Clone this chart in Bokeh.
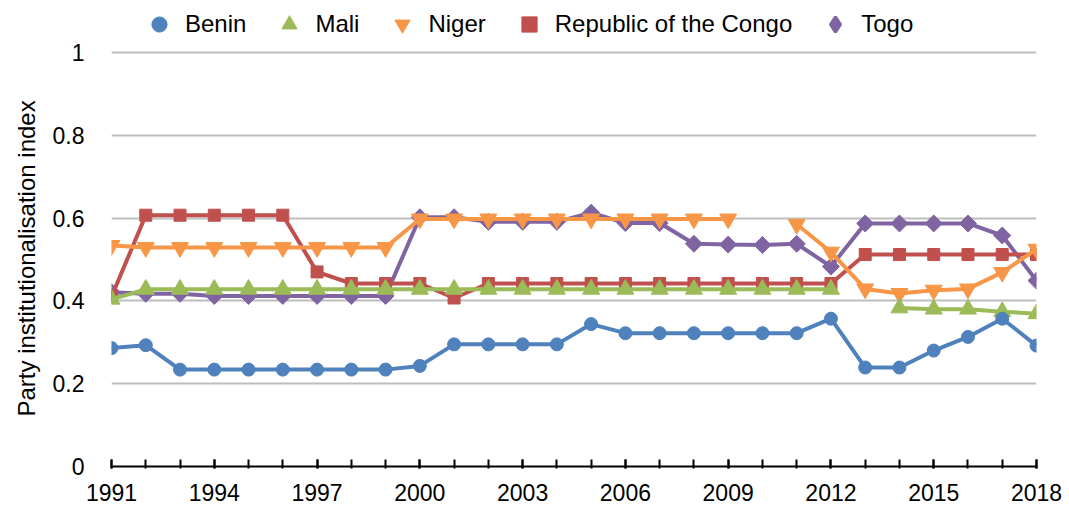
import numpy as np
from bokeh.plotting import figure
from bokeh.models import Range1d, FixedTicker, Legend, LegendItem, ColumnDataSource, Title
from bokeh.embed import file_html
from bokeh.resources import INLINE

nan = float("nan")
years = list(range(1991, 2019))

benin = [0.286, 0.293] + [0.234] * 7 + [0.243] + [0.295] * 4 + [0.344] + [0.322] * 6 + \
        [0.357, 0.239, 0.239, 0.280, 0.313, 0.357, 0.292]
mali = [0.404] + [0.428] * 21 + [nan] + [0.383, 0.380, 0.380, 0.374, 0.369]
niger = [0.534] + [0.529] * 8 + [0.598] * 10 + [nan] + \
        [0.585, 0.518, 0.429, 0.418, 0.426, 0.429, 0.469, 0.525]
congo = [0.410] + [0.607] * 5 + [0.470] + [0.442] * 3 + [0.407] + [0.442] * 11 + [0.512] * 6
togo = [0.421, 0.417, 0.417] + [0.412] * 6 + [0.602, 0.602] + [0.591] * 3 + [0.613, 0.588, 0.588] + \
       [0.538, 0.536, 0.535, 0.538, 0.483] + [0.587] * 4 + [0.558, 0.449]

names = ["Benin", "Mali", "Niger", "Republic of the Congo", "Togo"]
colors = ["#4F81BD", "#9BBB59", "#F79646", "#C0504D", "#8064A2"]
markers = ["circle", "triangle", "inverted_triangle", "square", "square"]
legend_markers = ["circle", "triangle", "inverted_triangle", "square", "diamond"]
sizes = [13, 17, 17, 12, 12]
angles = [0, 0, 0, 0, np.pi / 4]
series = [benin, mali, niger, congo, togo]

y_ticks = [0, 0.2, 0.4, 0.6, 0.8, 1.0]
y_labels = ["0", "0.2", "0.4", "0.6", "0.8", "1"]
x_label_years = list(range(1991, 2019, 3))
y_title = "Party institutionalisation index"

FONT = "Liberation Sans"

# frame extends above the value 1 so that the legend sits inside it (0 -> 466px, 1 -> 52px)
Y_TOP = 462 / 414

p = figure(width=1069, height=509, output_backend="svg", toolbar_location=None,
           x_range=Range1d(1991, 2018), y_range=Range1d(0, Y_TOP),
           min_border_left=110, min_border_right=33, min_border_top=4, min_border_bottom=43)
p.outline_line_color = None
p.background_fill_color = "white"
p.border_fill_color = "white"

p.xgrid.visible = False
p.ygrid.ticker = FixedTicker(ticks=y_ticks[1:])
p.ygrid.grid_line_color = "#BEBEBE"
p.ygrid.grid_line_width = 2

# x axis
p.xaxis.ticker = FixedTicker(ticks=x_label_years, minor_ticks=years)
p.xaxis.axis_line_color = "black"
p.xaxis.axis_line_width = 2
p.xaxis.major_tick_line_color = "black"
p.xaxis.major_tick_line_width = 2
p.xaxis.minor_tick_line_color = "black"
p.xaxis.minor_tick_line_width = 2
p.xaxis.major_tick_in = 7
p.xaxis.major_tick_out = 2
p.xaxis.minor_tick_in = 7
p.xaxis.minor_tick_out = 2
p.xaxis.major_label_standoff = 15
p.xaxis.major_label_text_font = FONT
p.xaxis.major_label_text_font_size = "23px"
p.xaxis.major_label_text_color = "black"
p.xaxis.major_label_overrides = {int(y): str(y) for y in x_label_years}

# y axis
p.yaxis.ticker = FixedTicker(ticks=y_ticks)
p.yaxis.axis_line_color = None
p.yaxis.major_tick_line_color = None
p.yaxis.minor_tick_line_color = None
p.yaxis.major_tick_in = 0
p.yaxis.major_tick_out = 0
p.yaxis.major_label_standoff = 27
p.yaxis.major_label_text_font = FONT
p.yaxis.major_label_text_font_size = "23px"
p.yaxis.major_label_text_color = "black"
p.yaxis.major_label_overrides = {t: l for t, l in zip(y_ticks, y_labels)}

# y-axis title, positioned along the 0..1 part of the frame
p.add_layout(Title(text=y_title, align="left", offset=50, standoff=20,
                   text_font=FONT, text_font_size="24px", text_font_style="normal",
                   text_color="black"), "left")

renderers = {}
for i in reversed(range(len(names))):
    src = ColumnDataSource(dict(x=years, y=series[i]))
    p.line("x", "y", source=src, line_color=colors[i], line_width=4)
    p.scatter("x", "y", source=src, marker=markers[i], size=sizes[i], angle=angles[i],
              fill_color=colors[i], line_color=colors[i])
    # legend swatch (no visible points: NaN position)
    lr = p.scatter([nan], [nan], marker=legend_markers[i], size=10,
                   fill_color=colors[i], line_color=colors[i],
                   line_width=3 if legend_markers[i] == "diamond" else 1)
    renderers[i] = lr

items = [LegendItem(label=names[i], renderers=[renderers[i]]) for i in range(len(names))]
legend = Legend(items=items, orientation="horizontal", location=(29, 423),
                glyph_width=38, glyph_height=38, label_standoff=7, spacing=24,
                padding=0, margin=0, border_line_color=None, background_fill_alpha=0,
                label_text_font=FONT, label_text_font_size="24px", label_text_color="black")
p.add_layout(legend, "center")

open("out.html", "w").write(file_html(p, INLINE))
